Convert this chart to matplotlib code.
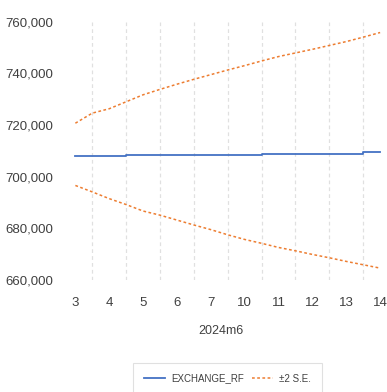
import numpy as np
import matplotlib
matplotlib.use('Agg')
import matplotlib.pyplot as plt
from matplotlib.ticker import FuncFormatter, MultipleLocator

# days of June 2024 shown on the axis
days = ['3', '4', '5', '6', '7', '10', '11', '12', '13', '14']

# forecast for each day (step line)
forecast = [708000, 708000, 708400, 708400, 708400, 708400, 708800, 708800, 708800, 709600]

# +/- 2 S.E. bands, read at every half day
upper = [720700, 724600, 726300, 729000, 731700, 733800, 735800, 737700, 739500, 741300,
         743000, 744800, 746500, 747900, 749300, 750800, 752300, 754000, 755800]
lower = [696600, 694100, 691500, 689200, 686700, 685100, 683200, 681300, 679500, 677500,
         675700, 674200, 672600, 671300, 669900, 668600, 667200, 665900, 664600]

plt.rcParams['font.family'] = ['Liberation Sans', 'DejaVu Sans']
text_col = '#404040'
blue = '#4472C4'
orange = '#ED7D31'

fig = plt.figure(figsize=(3.87, 3.92), dpi=100)
ax = fig.add_axes([0.151, 0.2857, 0.840, 0.659])

x_day = np.arange(len(days))
x_half = np.arange(len(upper)) * 0.5

ax.plot(x_day, forecast, color=blue, lw=1.3, drawstyle='steps-mid', label='EXCHANGE_RF')
ax.plot(x_half, upper, color=orange, lw=1.1, ls=(0, (1.8, 1.6)), label='\u00b12 S.E.')
ax.plot(x_half, lower, color=orange, lw=1.1, ls=(0, (1.8, 1.6)))

ax.set_xlim(-0.5, 9.1)
ax.set_ylim(660000, 760000)
ax.set_xticks(x_day)
ax.set_xticklabels(days)
ax.set_xticks(x_day[:-1] + 0.5, minor=True)
ax.yaxis.set_major_locator(MultipleLocator(20000))
ax.yaxis.set_major_formatter(FuncFormatter(lambda v, p: f'{int(v):,}'))

ax.grid(which='minor', axis='x', color='#e0e0e0', ls=(0, (3, 2.5)), lw=0.9)
ax.grid(which='major', visible=False)
for s in ax.spines.values():
    s.set_visible(False)
ax.tick_params(which='both', length=0, labelsize=9.5, colors=text_col)
ax.tick_params(axis='x', pad=12)
ax.tick_params(axis='y', pad=4)

ax.set_xlabel('2024m6', fontsize=9, color=text_col, labelpad=12)

leg = fig.legend(loc='upper center', bbox_to_anchor=(227.5 / 387, 34 / 392), ncol=2,
                 fontsize=7, frameon=True, fancybox=False, edgecolor='#d9d9d9',
                 handlelength=2.2, columnspacing=0.8, handletextpad=0.6, borderpad=1.1)
leg.get_frame().set_linewidth(0.8)
for t in leg.get_texts():
    t.set_color(text_col)

fig.savefig('out.png', dpi=100)
